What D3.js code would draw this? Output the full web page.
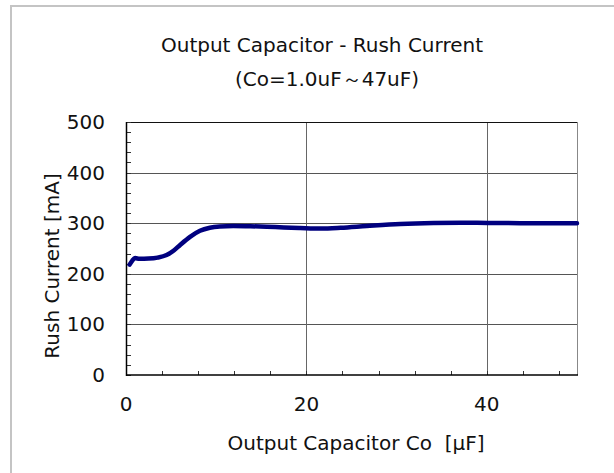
<!DOCTYPE html>
<html>
<head>
<meta charset="utf-8">
<script src="https://cdn.jsdelivr.net/npm/d3@7"></script>
<style>
  body { margin: 0; background: #fff; }
  svg { display: block; font-family: 'DejaVu Sans', Verdana, sans-serif; }
  .title { font-size: 20px; fill: #111; }
  .tick-label { font-size: 20px; fill: #111; }
  .axis-title { font-size: 20px; fill: #111; }
</style>
</head>
<body>
<div id="chart"></div>
<script>
// capacitance (uF) and rush current (mA)
const capValues = [0.4, 0.7, 1.0, 1.5, 2.5, 3.5, 4.5, 5.3, 6.0, 7.1, 8.2, 9.3, 10.4, 11.9, 13.8, 15.6, 17.5, 19.3, 21.6, 23.8, 26.7, 30.4, 34.1, 37.1, 40.1, 45.3, 50];
const currentValues = [218, 226, 231, 229.5, 230, 232, 237, 246, 257, 273, 285, 291, 293.5, 294.5, 294, 293, 291.5, 290.5, 289.5, 291, 294.5, 298.5, 300.5, 301, 300.5, 300, 300];

const xTicks = [0, 20, 40];
const yTicks = [0, 100, 200, 300, 400, 500];

const width = 614;
const height = 473;

const margin = {
  left: 126,
  right: 37,
  top: 122,
  bottom: 98
};

const plotW = width - margin.left - margin.right;
const plotH = height - margin.top - margin.bottom;

const svg = d3.select('#chart').append('svg')
  .attr('width', width)
  .attr('height', height);

// outer frame
svg.append('rect')
  .attr('x', 11)
  .attr('y', 6)
  .attr('width', width + 10)
  .attr('height', height + 10)
  .attr('fill', 'none')
  .attr('stroke', '#c4c4c4')
  .attr('stroke-width', 2);

svg.append('text')
  .attr('class', 'title')
  .attr('x', 322)
  .attr('y', 52)
  .attr('text-anchor', 'middle')
  .text('Output Capacitor - Rush Current');

svg.append('text')
  .attr('class', 'title')
  .attr('x', 327)
  .attr('y', 86)
  .attr('text-anchor', 'middle')
  .text('(Co=1.0uF～47uF)');

const xScale = d3.scaleLinear()
  .domain([0, 50])
  .range([0, plotW]);

const yScale = d3.scaleLinear()
  .domain([0, 500])
  .range([plotH, 0]);

const vis = svg.append('g')
  .attr('transform', 'translate(' + margin.left + ',' + margin.top + ')');

// grid lines
vis.selectAll('.hgrid')
  .data(yTicks.slice(1, -1)).enter()
    .append('line')
      .attr('x1', 0)
      .attr('x2', plotW)
      .attr('y1', function(d) { return Math.round(yScale(d)) + 0.5; })
      .attr('y2', function(d) { return Math.round(yScale(d)) + 0.5; })
      .attr('stroke', '#555')
      .attr('stroke-width', 1);

vis.selectAll('.vgrid')
  .data(xTicks.slice(1)).enter()
    .append('line')
      .attr('y1', 0)
      .attr('y2', plotH)
      .attr('x1', function(d) { return Math.round(xScale(d)) + 0.5; })
      .attr('x2', function(d) { return Math.round(xScale(d)) + 0.5; })
      .attr('stroke', '#666')
      .attr('stroke-width', 1);

// right border (gray) and top border (black)
vis.append('line')
  .attr('x1', plotW + 0.5).attr('x2', plotW + 0.5)
  .attr('y1', 0).attr('y2', plotH)
  .attr('stroke', '#888');

vis.append('line')
  .attr('x1', 0).attr('x2', plotW)
  .attr('y1', 0.5).attr('y2', 0.5)
  .attr('stroke', '#111');

// minor ticks, pointing inward
const yMinor = d3.range(0, 501, 20);
const xMinor = d3.range(0, 51, 4);

vis.selectAll('.ytick')
  .data(yMinor).enter()
    .append('line')
      .attr('x1', 0)
      .attr('x2', 5)
      .attr('y1', function(d) { return Math.round(yScale(d)) + 0.5; })
      .attr('y2', function(d) { return Math.round(yScale(d)) + 0.5; })
      .attr('stroke', '#333');

vis.selectAll('.xtick')
  .data(xMinor).enter()
    .append('line')
      .attr('y1', plotH)
      .attr('y2', plotH - 4)
      .attr('x1', function(d) { return Math.round(xScale(d)) + 0.5; })
      .attr('x2', function(d) { return Math.round(xScale(d)) + 0.5; })
      .attr('stroke', '#333');

// axes lines
vis.append('line')
  .attr('x1', 0.5).attr('x2', 0.5)
  .attr('y1', 0).attr('y2', plotH + 1)
  .attr('stroke', '#000')
  .attr('stroke-width', 1.5);

vis.append('line')
  .attr('x1', 0).attr('x2', plotW + 1)
  .attr('y1', plotH).attr('y2', plotH)
  .attr('stroke', '#000')
  .attr('stroke-width', 1.5);

// tick labels
vis.selectAll('.ylabel')
  .data(yTicks).enter()
    .append('text')
      .attr('class', 'tick-label')
      .attr('x', -21)
      .attr('y', function(d) { return yScale(d) + 7; })
      .attr('text-anchor', 'end')
      .text(function(d) { return d; });

vis.selectAll('.xlabel')
  .data(xTicks).enter()
    .append('text')
      .attr('class', 'tick-label')
      .attr('x', function(d) { return xScale(d); })
      .attr('y', plotH + 36)
      .attr('text-anchor', 'middle')
      .text(function(d) { return d; });

// curve
vis.append('path')
  .datum(capValues.map(function(c, i) { return [c, currentValues[i]]; }))
  .attr('fill', 'none')
  .attr('stroke', '#00007f')
  .attr('stroke-width', 4.5)
  .attr('stroke-linecap', 'round')
  .attr('stroke-linejoin', 'round')
  .attr('d', d3.line()
    .x(function(d) { return xScale(d[0]); })
    .y(function(d) { return yScale(d[1]); })
    .curve(d3.curveMonotoneX));

// axis titles
svg.append('text')
  .attr('class', 'axis-title')
  .attr('x', 356)
  .attr('y', 450)
  .attr('text-anchor', 'middle')
  .attr('xml:space', 'preserve')
  .text('Output Capacitor Co  [μF]');

svg.append('text')
  .attr('class', 'axis-title')
  .attr('transform', 'translate(59,266) rotate(-90)')
  .attr('text-anchor', 'middle')
  .text('Rush Current [mA]');
</script>
</body>
</html>
